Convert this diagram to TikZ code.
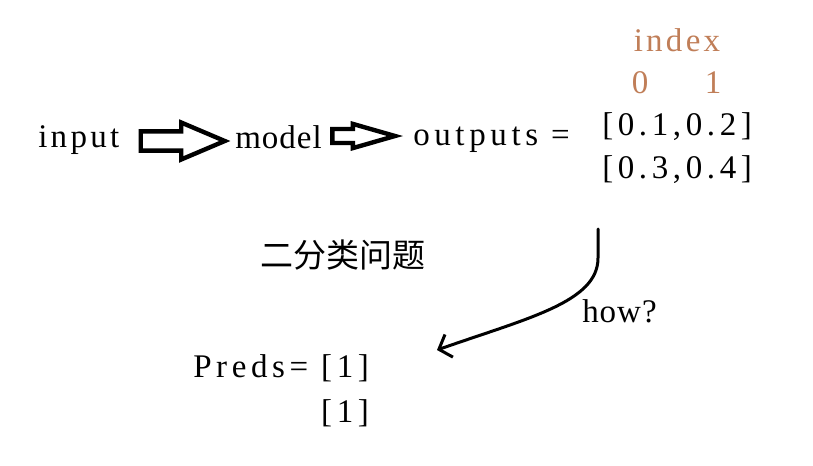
\documentclass[tikz,border=0pt]{standalone}
\usepackage{fontspec}
\setmainfont{Liberation Serif}[LetterSpace=10]
\newfontfamily\tight{Liberation Serif}[LetterSpace=3]
\newfontfamily\wide{Liberation Serif}[LetterSpace=14]
\newfontfamily\cjk{Noto Sans CJK SC}
\usetikzlibrary{shapes.arrows,arrows.meta,calc}
\definecolor{idxbrown}{RGB}{192,126,88}
\begin{document}
\begin{tikzpicture}[x=0.75pt,y=-0.75pt,
	lbl/.style={inner sep=0pt,font=\fontsize{24.75pt}{30pt}\selectfont},
	tightlbl/.style={lbl,font=\tight\fontsize{24.75pt}{30pt}\selectfont},
	widelbl/.style={lbl,font=\wide\fontsize{24.75pt}{30pt}\selectfont},
	idx/.style={lbl,text=idxbrown},
	fatarrow/.style={single arrow,draw,line width=3.3pt,inner xsep=0pt,fill=white},
	curvy/.style={line width=2.25pt,line cap=round,line join=round}]
	\useasboundingbox (0,0) rectangle (813,465);

	% pipeline
	\node[lbl,anchor=base west] (input) at (38,147) {input};
	\node[tightlbl,anchor=base west] (model) at (235,148) {model};
	\node[widelbl,anchor=base west] (outputs) at (413,145) {outputs =};

	% outputs matrix
	\node[idx,anchor=base] (index) at (677,51) {index};
	\node[idx,anchor=base] (col0) at (640,93) {0};
	\node[idx,anchor=base] (col1) at (713,93) {1};
	\node[widelbl,anchor=base west] (rowa) at (602,135) {[0.1,0.2]};
	\node[widelbl,anchor=base west] (rowb) at (602,178) {[0.3,0.4]};

	% question
	\node[lbl,font=\cjk\fontsize{24.75pt}{30pt}\selectfont] (task) at (343,255) {二分类问题};
	\node[tightlbl,anchor=base west] (how) at (582,322) {how?};

	% predictions
	\node[widelbl,anchor=base west] (preds) at (193,377) {Preds= [1]};
	\node[widelbl,anchor=base east] (predb) at ($(preds.base east)+(0,45)$) {[1]};

	% hollow arrows
	\node[fatarrow,anchor=tail,minimum height=63pt,inner ysep=5.6pt,single arrow head extend=6.6pt,single arrow tip angle=46]
		(arra) at ($(input.base east)+(19,-6)$) {};
	\node[fatarrow,anchor=tip,minimum height=47pt,inner ysep=3.6pt,single arrow head extend=3.8pt,single arrow tip angle=32]
		(arrb) at ($(outputs.base west)+(-10,-9)$) {};

	% how? curve
	\coordinate (howstart) at (598,229);
	\coordinate (howend) at (437,350);
	\draw[curvy,-{Straight Barb[length=8pt,width=18pt,line width=2.25pt]}] (howstart) -- (598,258)
		.. controls (598,302) and (528,318) .. (howend);
\end{tikzpicture}
\end{document}
